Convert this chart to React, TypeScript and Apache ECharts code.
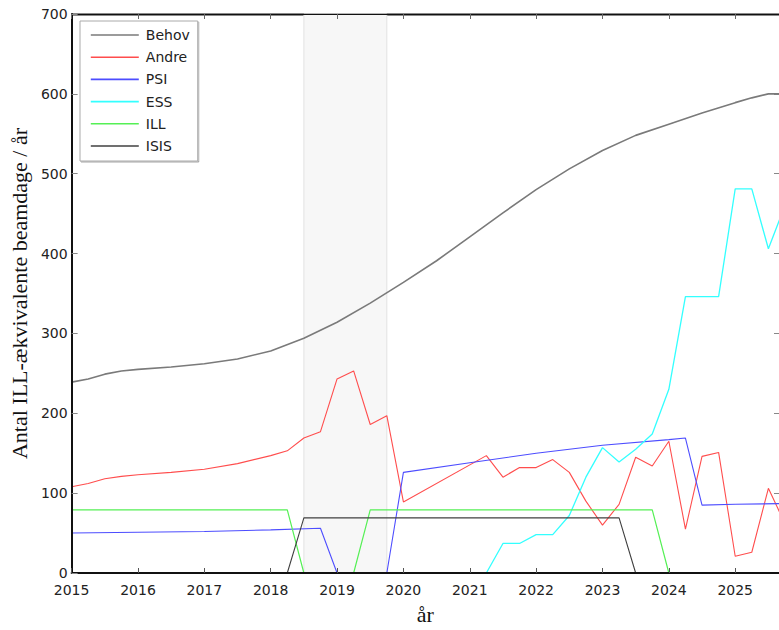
import React, { useEffect, useRef } from "react";
import * as echarts from "echarts";

const seriesNames = ["Behov", "Andre", "PSI", "ESS", "ILL", "ISIS"];

const behovYears = [2015, 2015.25, 2015.5, 2015.75, 2016, 2016.5, 2017, 2017.5, 2018, 2018.5, 2019, 2019.5, 2020, 2020.5, 2021, 2021.5, 2022, 2022.5, 2023, 2023.5, 2024, 2024.5, 2025, 2025.25, 2025.5, 2025.75];
const behovValues = [239, 243, 249, 253, 255, 258, 262, 268, 278, 294, 314, 338, 364, 391, 421, 451, 480, 506, 529, 548, 562, 576, 589, 595, 600, 600];

const andreYears = [2015, 2015.25, 2015.5, 2015.75, 2016, 2016.5, 2017, 2017.5, 2018, 2018.25, 2018.5, 2018.75, 2019, 2019.25, 2019.5, 2019.75, 2020, 2021.25, 2021.5, 2021.75, 2022, 2022.25, 2022.5, 2022.75, 2023, 2023.25, 2023.5, 2023.75, 2024, 2024.25, 2024.5, 2024.75, 2025, 2025.25, 2025.5, 2025.75];
const andreValues = [108, 112, 118, 121, 123, 126, 130, 137, 147, 153, 169, 177, 243, 253, 186, 197, 89, 147, 120, 132, 132, 142, 126, 90, 60, 86, 145, 134, 165, 55, 146, 151, 21, 26, 106, 62];

const psiYears = [2015, 2016, 2017, 2018, 2018.75, 2019, 2019.75, 2020, 2021, 2022, 2023, 2024, 2024.25, 2024.5, 2025, 2025.75];
const psiValues = [50, 51, 52, 54, 56, 0, 0, 126, 138, 150, 160, 167, 169, 85, 86, 87];

const essYears = [2015, 2021.25, 2021.5, 2021.75, 2022, 2022.25, 2022.5, 2022.75, 2023, 2023.25, 2023.5, 2023.75, 2024, 2024.25, 2024.5, 2024.75, 2025, 2025.25, 2025.5, 2025.75];
const essValues = [0, 0, 37, 37, 48, 48, 72, 120, 157, 139, 155, 174, 230, 346, 346, 346, 481, 481, 406, 460];

const illYears = [2015, 2018.25, 2018.5, 2019.25, 2019.5, 2023.75, 2024, 2025.75];
const illValues = [79, 79, 0, 0, 79, 79, 0, 0];

const isisYears = [2015, 2018.25, 2018.5, 2023.25, 2023.5, 2025.75];
const isisValues = [0, 0, 69, 69, 0, 0];

const shadedSpan = [2018.5, 2019.75];
const xMin = 2015;
const xMax = 2025.66;
const yMin = 0;
const yMax = 700;

const pairs = (xs: number[], ys: number[]) => xs.map((x, i) => [x, ys[i]]);

const seriesData = [
  { name: "Behov", data: pairs(behovYears, behovValues), color: "#7a7a7a", width: 1.6 },
  { name: "Andre", data: pairs(andreYears, andreValues), color: "#ff4d4d", width: 1.1 },
  { name: "PSI", data: pairs(psiYears, psiValues), color: "#4d4dff", width: 1.1 },
  { name: "ESS", data: pairs(essYears, essValues), color: "#33ffff", width: 1.3 },
  { name: "ILL", data: pairs(illYears, illValues), color: "#55f055", width: 1.2 },
  { name: "ISIS", data: pairs(isisYears, isisValues), color: "#404040", width: 1.1 },
];

export default function App() {
  const ref = useRef<HTMLDivElement>(null);
  useEffect(() => {
    if (!ref.current) return;
    const chart = echarts.init(ref.current, undefined, { renderer: "svg" });
    const tickFont = { fontFamily: "DejaVu Sans", fontSize: 14, color: "#222" };
    const option: any = {
      animation: false,
      backgroundColor: "#ffffff",
      grid: { left: 71, top: 14, right: 0, bottom: 56, containLabel: false },
      legend: {
        orient: "vertical",
        left: 80,
        top: 21,
        data: seriesNames,
        itemWidth: 48,
        itemHeight: 14,
        itemGap: 8.2,
        padding: [7, 8, 8, 10],
        backgroundColor: "#ffffff",
        borderColor: "#aaaaaa",
        borderWidth: 1,
        shadowColor: "rgba(0,0,0,0.35)",
        shadowOffsetX: 1,
        shadowOffsetY: 1,
        shadowBlur: 0,
        itemStyle: { opacity: 0 },
        lineStyle: { width: 1.6 },
        textStyle: { fontFamily: "DejaVu Sans", fontSize: 14, color: "#222", padding: [0, 0, 0, 2] },
        z: 20,
      },
      xAxis: [
        {
          type: "value",
          position: "bottom",
          min: xMin,
          max: xMax,
          interval: 1,
          name: "år",
          nameLocation: "middle",
          nameGap: 30,
          nameTextStyle: { fontFamily: "Liberation Serif", fontSize: 22, color: "#111" },
          axisLine: { show: true, onZero: false, lineStyle: { color: "#111", width: 2 } },
          axisTick: { show: true, inside: true, length: 5, lineStyle: { color: "#555" } },
          axisLabel: {
            ...tickFont,
            margin: 10,
            showMaxLabel: false,
            formatter: (v: number) => (Number.isInteger(v) ? String(v) : ""),
          },
          splitLine: { show: false },
          z: 10,
        },
        {
          type: "value",
          position: "top",
          min: xMin,
          max: xMax,
          interval: 1,
          axisLine: { show: true, onZero: false, lineStyle: { color: "#111", width: 1 } },
          axisTick: { show: true, inside: true, length: 5, lineStyle: { color: "#666" } },
          axisLabel: { show: false },
          splitLine: { show: false },
          z: 10,
        },
      ],
      yAxis: [
        {
          type: "value",
          position: "left",
          min: yMin,
          max: yMax,
          interval: 100,
          name: "Antal ILL-ækvivalente beamdage / år",
          nameLocation: "middle",
          nameGap: 35,
          nameTextStyle: { fontFamily: "Liberation Serif", fontSize: 22, color: "#111" },
          axisLine: { show: true, onZero: false, lineStyle: { color: "#111", width: 2 } },
          axisTick: { show: true, inside: true, length: 6, lineStyle: { color: "#888" } },
          axisLabel: { ...tickFont, margin: 4 },
          splitLine: { show: false },
          z: 10,
        },
        {
          type: "value",
          position: "right",
          min: yMin,
          max: yMax,
          interval: 100,
          axisLine: { show: false },
          axisTick: { show: true, inside: true, length: 5, lineStyle: { color: "#888" } },
          axisLabel: { show: false },
          splitLine: { show: false },
        },
      ],
      series: [
        {
          type: "line",
          name: "_frame",
          data: [],
          silent: true,
          markArea: {
            silent: true,
            z: 1,
            itemStyle: { color: "#f7f7f7", borderColor: "#e2e2e2", borderWidth: 1 },
            data: [[{ xAxis: shadedSpan[0], yAxis: yMin }, { xAxis: shadedSpan[1], yAxis: yMax }]],
          },
          markLine: {
            silent: true,
            z: 0.5,
            symbol: "none",
            label: { show: false },
            lineStyle: { color: "#8a8a8a", width: 3, type: "solid" },
            data: [{ yAxis: yMax }],
          },
        },
        ...seriesData.map((s) => ({
          type: "line",
          name: s.name,
          data: s.data,
          symbol: "none",
          showSymbol: false,
          color: s.color,
          lineStyle: { color: s.color, width: s.width },
          z: 2,
        })),
      ],
    };
    chart.setOption(option);
    return () => chart.dispose();
  }, []);
  return <div ref={ref} style={{ position: "fixed", left: 0, top: 0, width: 779, height: 630 }} />;
}
